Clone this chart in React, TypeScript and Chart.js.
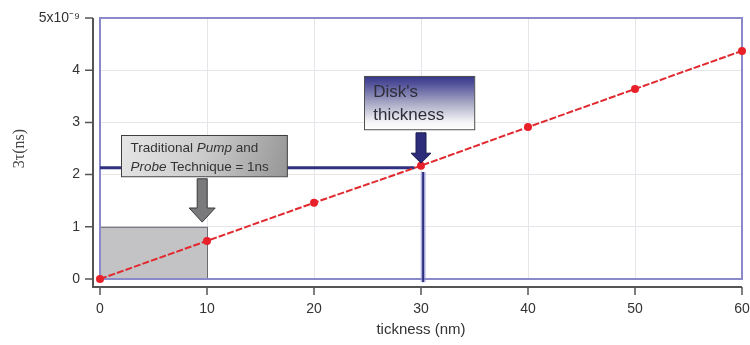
import { useEffect, useRef } from 'react';
import { Chart, registerables } from 'chart.js';
Chart.register(...registerables);

// ---- data ----
const thickness = [0, 10, 20, 30, 40, 50, 60];
const tau3 = [0, 0.73, 1.46, 2.17, 2.91, 3.64, 4.37];
const yTopLabel = '5x10⁻⁹';
const xTitle = 'tickness (nm)';
const yTitle = '3τ(ns)';

// ---- annotations (data units) ----
const pumpRegionX = [0, 10];
const pumpRegionY = [0, 1];
const diskLevelY = 2.13;
const diskLevelEndX = 29.4;
const diskX = 30.2;
const pumpBoxX = [2, 17.5];
const pumpBoxY = [2.76, 1.97];
const pumpArrow = { x: 9.55, top: 1.92, head: 1.36, tip: 1.09 };
const diskBoxX = [24.7, 35.0];
const diskBoxY = [3.89, 2.87];
const diskArrow = { x: 30.0, top: 2.8, head: 2.41, tip: 2.22 };

const SANS = '"Liberation Sans", Arial, sans-serif';
const SERIF = '"Liberation Serif", "Times New Roman", serif';

const annot = {
  id: 'annot',
  beforeDatasetsDraw(chart: any) {
    const { ctx, chartArea: a, scales } = chart;
    const X = (v: number) => scales.x.getPixelForValue(v);
    const Y = (v: number) => scales.y.getPixelForValue(v);
    ctx.save();
    // gray pump/probe region
    ctx.fillStyle = '#c3c3c5';
    const rx = X(pumpRegionX[0]), ry = Y(pumpRegionY[1]);
    ctx.fillRect(rx, ry, X(pumpRegionX[1]) - rx, Y(pumpRegionY[0]) - ry);
    ctx.strokeStyle = '#6a6a70';
    ctx.lineWidth = 1;
    ctx.strokeRect(rx + 0.5, ry + 0.5, X(pumpRegionX[1]) - rx, Y(pumpRegionY[0]) - ry);
    // blue frame
    ctx.strokeStyle = '#8a8acb';
    ctx.lineWidth = 2;
    ctx.strokeRect(a.left, a.top, a.right - a.left, a.bottom - a.top);
    // disk thickness lines
    ctx.strokeStyle = '#2f3080';
    ctx.lineWidth = 3;
    ctx.beginPath();
    ctx.moveTo(X(0), Y(diskLevelY));
    ctx.lineTo(X(diskLevelEndX), Y(diskLevelY));
    ctx.stroke();
    ctx.strokeStyle = 'rgba(140,140,210,0.6)';
    ctx.lineWidth = 5;
    ctx.beginPath();
    ctx.moveTo(X(diskX), Y(2.05));
    ctx.lineTo(X(diskX), Y(-0.06));
    ctx.stroke();
    ctx.strokeStyle = '#2f3080';
    ctx.lineWidth = 2;
    ctx.beginPath();
    ctx.moveTo(X(diskX), Y(2.05));
    ctx.lineTo(X(diskX), Y(-0.06));
    ctx.stroke();
    // outer axes
    ctx.strokeStyle = '#555';
    ctx.lineWidth = 2;
    const ax = a.left - 7, ay = a.bottom + 8;
    ctx.beginPath();
    ctx.moveTo(ax, a.top);
    ctx.lineTo(ax, ay);
    ctx.lineTo(a.right, ay);
    ctx.stroke();
    ctx.lineWidth = 1.5;
    ctx.beginPath();
    for (const t of scales.y.ticks) {
      const yy = Y(t.value);
      ctx.moveTo(ax - 8, yy);
      ctx.lineTo(ax, yy);
    }
    for (const t of scales.x.ticks) {
      const xx = X(t.value);
      ctx.moveTo(xx, ay);
      ctx.lineTo(xx, ay + 8);
    }
    ctx.stroke();
    ctx.restore();
  },
  afterDatasetsDraw(chart: any) {
    const { ctx, scales } = chart;
    const X = (v: number) => scales.x.getPixelForValue(v);
    const Y = (v: number) => scales.y.getPixelForValue(v);
    ctx.save();
    const arrow = (ar: any, shaftW: number, headW: number, fill: string, stroke: string) => {
      const cx = X(ar.x), t = Y(ar.top), h = Y(ar.head), tip = Y(ar.tip);
      ctx.beginPath();
      ctx.moveTo(cx - shaftW / 2, t);
      ctx.lineTo(cx + shaftW / 2, t);
      ctx.lineTo(cx + shaftW / 2, h);
      ctx.lineTo(cx + headW / 2, h);
      ctx.lineTo(cx, tip);
      ctx.lineTo(cx - headW / 2, h);
      ctx.lineTo(cx - shaftW / 2, h);
      ctx.closePath();
      ctx.fillStyle = fill;
      ctx.fill();
      ctx.strokeStyle = stroke;
      ctx.lineWidth = 1;
      ctx.stroke();
    };
    // pump box
    {
      const x0 = X(pumpBoxX[0]), x1 = X(pumpBoxX[1]);
      const y0 = Y(pumpBoxY[0]), y1 = Y(pumpBoxY[1]);
      const g = ctx.createLinearGradient(x0, y0, x1, y1);
      g.addColorStop(0, '#e6e6e6');
      g.addColorStop(0.5, '#cbcbcb');
      g.addColorStop(1, '#969696');
      ctx.fillStyle = g;
      ctx.fillRect(x0, y0, x1 - x0, y1 - y0);
      ctx.strokeStyle = '#404040';
      ctx.lineWidth = 1;
      ctx.strokeRect(Math.round(x0) + 0.5, Math.round(y0) + 0.5, x1 - x0, y1 - y0);
      ctx.fillStyle = '#333';
      ctx.textBaseline = 'middle';
      ctx.textAlign = 'left';
      const segs = (parts: [string, boolean][], x: number, y: number) => {
        let cx = x;
        for (const [s, it] of parts) {
          ctx.font = (it ? 'italic ' : '') + '13.5px ' + SANS;
          ctx.fillText(s, cx, y);
          cx += ctx.measureText(s).width;
        }
      };
      segs([['Traditional ', false], ['Pump', true], [' and', false]], x0 + 9, y0 + 13);
      segs([['Probe', true], [' Technique = 1ns', false]], x0 + 9, y0 + 32);
    }
    arrow(pumpArrow, 10, 26, '#7a7a7c', '#3a3a3a');
    // disk box
    {
      const x0 = X(diskBoxX[0]), x1 = X(diskBoxX[1]);
      const y0 = Y(diskBoxY[0]), y1 = Y(diskBoxY[1]);
      const g = ctx.createLinearGradient(x0, y0, x0, y1);
      g.addColorStop(0, '#35358a');
      g.addColorStop(0.15, '#52529a');
      g.addColorStop(0.5, '#a6a6c4');
      g.addColorStop(0.85, '#f2f2f5');
      g.addColorStop(1, '#ffffff');
      ctx.fillStyle = g;
      ctx.fillRect(x0, y0, x1 - x0, y1 - y0);
      ctx.strokeStyle = '#505050';
      ctx.lineWidth = 1;
      ctx.strokeRect(Math.round(x0) + 0.5, Math.round(y0) + 0.5, x1 - x0, y1 - y0);
      ctx.fillStyle = '#2e2e38';
      ctx.font = '17px ' + SANS;
      ctx.textBaseline = 'middle';
      ctx.textAlign = 'left';
      ctx.fillText("Disk's", x0 + 9, y0 + 16);
      ctx.fillText('thickness', x0 + 9, y0 + 39);
    }
    arrow(diskArrow, 10, 20, '#2c2c7a', '#1c1c50');
    ctx.restore();
  },
};

export default function App() {
  const ref = useRef<HTMLCanvasElement>(null);
  useEffect(() => {
    if (!ref.current) return;
    const chart = new Chart(ref.current, {
      type: 'line',
      data: {
        labels: thickness,
        datasets: [
          {
            data: thickness.map((x, i) => ({ x, y: tau3[i] })),
            borderColor: '#e02a30',
            backgroundColor: '#e8202a',
            borderWidth: 2,
            borderDash: [7, 2],
            pointRadius: 4,
            pointBorderWidth: 0,
            pointBackgroundColor: '#e8202a',
            clip: false as any,
          },
        ],
      },
      options: {
        animation: false,
        responsive: false,
        devicePixelRatio: 1,
        layout: { padding: { top: 18, right: 8, left: 0, bottom: 0 } },
        plugins: { legend: { display: false }, tooltip: { enabled: false } },
        scales: {
          x: {
            type: 'linear',
            min: 0,
            max: 60,
            ticks: { stepSize: 10, padding: 7, color: '#333', font: { family: SANS, size: 14 } },
            grid: { color: '#e6e6ea', tickLength: 15, tickColor: 'rgba(0,0,0,0)' },
            border: { display: false },
            title: {
              display: true,
              text: xTitle,
              color: '#333',
              font: { family: SANS, size: 15 },
              padding: { top: 4, bottom: 6 },
            },
            afterFit: (s: any) => {
              s.height = 66;
              s.paddingLeft = 0;
              s.paddingRight = 0;
            },
          },
          y: {
            type: 'linear',
            min: 0,
            max: 5,
            ticks: {
              stepSize: 1,
              padding: 5,
              color: '#333',
              font: { family: SANS, size: 14 },
              callback: (v: any) => (v === 5 ? yTopLabel : String(v)),
            },
            grid: { color: '#e6e6ea', tickLength: 15, tickColor: 'rgba(0,0,0,0)' },
            border: { display: false },
            title: {
              display: true,
              text: yTitle,
              color: '#444',
              font: { family: SERIF, size: 16 },
              padding: { top: 10, bottom: 0 },
            },
            afterFit: (s: any) => {
              s.width = 100;
              s.paddingTop = 0;
              s.paddingBottom = 0;
            },
          },
        },
      },
      plugins: [annot],
    });
    return () => chart.destroy();
  }, []);
  return (
    <div style={{ position: 'absolute', left: 0, top: 0, width: 750, height: 345, background: '#fff' }}>
      <canvas ref={ref} width={750} height={345} style={{ width: 750, height: 345, display: 'block' }} />
    </div>
  );
}
